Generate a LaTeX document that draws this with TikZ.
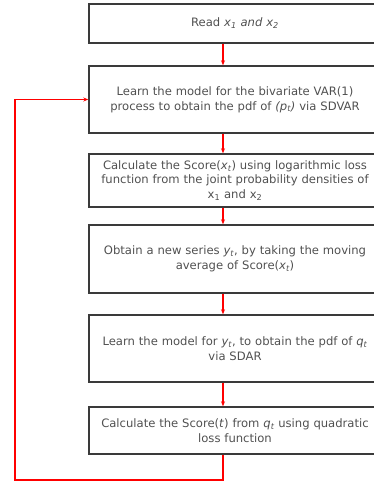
\documentclass[tikz,border=0pt]{standalone}
\usepackage{fontspec}
\setmainfont{DejaVu Sans}
\usetikzlibrary{arrows.meta, calc, positioning}

\definecolor{boxline}{HTML}{3A3A3A}
\definecolor{boxtext}{HTML}{505050}
\definecolor{loopred}{HTML}{FF0000}
\newcommand{\vv}[2]{\textit{#1\textsubscript{#2}}}

\begin{document}
\begin{tikzpicture}[x=1pt, y=-1pt,
	stepbox/.style={draw=boxline, line width=1.4pt, minimum width=292pt, text width=288pt,
		align=center, inner sep=0pt, text=boxtext, font=\fontsize{11.6}{14.6}\selectfont},
	flow/.style={draw=loopred, line width=1.2pt, -{Stealth[length=5pt, width=4pt]}}]
	\useasboundingbox (0,0) rectangle (374,482);
			\node[stepbox, minimum height=39pt] (read) at (235,23.5) {Read \textit{x\textsubscript{1} and x\textsubscript{2}}};
			\node[stepbox, minimum height=67pt] (var) at (235,99.5) {Learn the model for the bivariate VAR(1)\\ process to obtain the pdf of \textit{(p\textsubscript{t})} via SDVAR};
			\node[stepbox, minimum height=53pt] (score) at (235,180.5) {Calculate the Score(\vv{x}{t}) using logarithmic loss\\ function from the joint probability densities of\\ x\textsubscript{1} and x\textsubscript{2}};
			\node[stepbox, minimum height=68pt] (avg) at (235,259) {Obtain a new series \vv{y}{t}, by taking the moving\\ average of Score(\vv{x}{t})};
			\node[stepbox, minimum height=67pt] (sdar) at (235,348.5) {Learn the model for \vv{y}{t}, to obtain the pdf of \vv{q}{t}\\ via SDAR};
			\node[stepbox, minimum height=47pt] (quad) at (235,430.5) {Calculate the Score(\textit{t}) from \vv{q}{t} using quadratic\\ loss function};
			\coordinate (ax) at (223,0);
			\coordinate (low) at (15,480);
			\draw[flow] (read.south -| ax) -- (var.north -| ax);
			\draw[flow] (var.south -| ax) -- (score.north -| ax);
			\draw[flow] (score.south -| ax) -- (avg.north -| ax);
			\draw[flow] (avg.south -| ax) -- (sdar.north -| ax);
			\draw[flow] (sdar.south -| ax) -- (quad.north -| ax);
			\draw[flow] (quad.south -| ax) |- (low) |- (var.west);
		\end{tikzpicture}
\end{document}
